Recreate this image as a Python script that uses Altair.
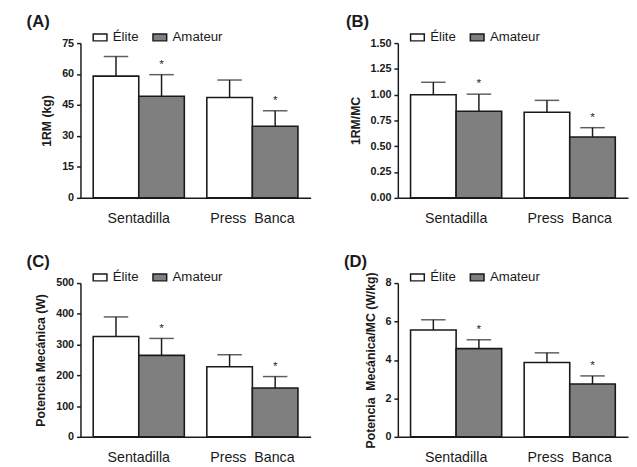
import altair as alt
import pandas as pd

exercises = ["Sentadilla", "Press\u00a0\u00a0Banca"]
groups = ["Élite", "Amateur"]

# values per panel: order = (Sentadilla Élite, Sentadilla Amateur, Press Élite, Press Amateur)
a_mean = [59.0, 49.2, 48.6, 34.7]
a_upper = [68.5, 59.7, 57.1, 42.2]
b_mean = [1.00, 0.84, 0.83, 0.59]
b_upper = [1.12, 1.005, 0.945, 0.68]
c_mean = [326, 265, 228, 159]
c_upper = [390, 320, 267, 196]
d_mean = [5.56, 4.59, 3.87, 2.75]
d_upper = [6.09, 5.05, 4.37, 3.17]
sig = ["", "*", "", "*"]

a_ticks = [0, 15, 30, 45, 60, 75]
b_ticks = [0, 0.25, 0.5, 0.75, 1.0, 1.25, 1.5]
c_ticks = [0, 100, 200, 300, 400, 500]
d_ticks = [0, 2, 4, 6, 8]

INK = "#1a1a1a"


def make_df(means, uppers):
    rows = []
    i = 0
    for ex in exercises:
        for g in groups:
            rows.append({"exercise": ex, "group": g, "value": means[i],
                         "upper": uppers[i], "sig": sig[i]})
            i += 1
    return pd.DataFrame(rows)


def panel(label, means, uppers, ticks, ytitle, fmt, height, tdx):
    df = make_df(means, uppers)
    base = alt.Chart(df).encode(
        x=alt.X("exercise:N", sort=exercises,
                scale=alt.Scale(paddingInner=0.198, paddingOuter=0.112),
                axis=alt.Axis(title=None, labelAngle=0, ticks=False,
                              labelFontSize=14.5, labelPadding=14,
                              labelColor=INK, domainColor=INK,
                              domainWidth=1.5)),
        xOffset=alt.XOffset("group:N", sort=groups,
                            scale=alt.Scale(paddingInner=0, paddingOuter=0)),
    )
    yscale = alt.Scale(domain=[ticks[0], ticks[-1]], nice=False)

    def yaxis():
        return alt.Axis(title=ytitle, values=ticks, format=fmt,
                        labelOverlap=False,
                        grid=False, tickSize=4, tickColor=INK,
                        tickWidth=1.5, domainColor=INK, domainWidth=1.5,
                        labelFontSize=11, labelFontWeight="bold",
                        labelColor=INK, labelPadding=3, titleFontSize=12.5,
                        titleFontWeight="bold", titleColor=INK,
                        titlePadding=8)

    bars = base.mark_bar(stroke=INK, strokeWidth=1.6, opacity=1).encode(
        y=alt.Y("value:Q", scale=yscale, axis=yaxis()),
        color=alt.Color("group:N",
                        scale=alt.Scale(domain=groups, range=["#ffffff", "#7f7f7f"]),
                        legend=alt.Legend(title=None, orient="none", legendX=12,
                                          legendY=-14, direction="horizontal",
                                          symbolType="M-1,-0.5H1V0.5H-1Z",
                                          symbolSize=196, symbolStrokeColor=INK,
                                          symbolStrokeWidth=1.5, symbolOpacity=1,
                                          labelFontSize=13.5, labelColor=INK,
                                          labelOffset=5, columnPadding=11)),
    )
    err = base.mark_rule(color=INK, strokeWidth=1.5).encode(
        y=alt.Y("value:Q", scale=yscale, axis=yaxis(), title=ytitle),
        y2="upper:Q")
    cap = base.mark_tick(color=INK, thickness=1.5, size=25).encode(
        y=alt.Y("upper:Q", scale=yscale, axis=yaxis(), title=ytitle))
    star = base.mark_text(dy=-4, baseline="bottom", fontSize=12,
                          color=INK).encode(
        y=alt.Y("upper:Q", scale=yscale, axis=yaxis(), title=ytitle),
        text="sig:N")
    return alt.layer(bars, err, cap, star).properties(
        width=235, height=height,
        title=alt.Title(label, anchor="start", frame="group", fontSize=17,
                        fontWeight="bold", dx=tdx, color=INK, offset=-2),
    )


pa = panel("(A)", a_mean, a_upper, a_ticks, "1RM (kg)", "d", 158, -55)
pb = panel("(B)", b_mean, b_upper, b_ticks, "1RM/MC", ".2f", 158, -53)
pc = panel("(C)", c_mean, c_upper, c_ticks, "Potencia Mecánica (W)", "d", 157, -55)
pd_ = panel("(D)", d_mean, d_upper, d_ticks,
            "Potencia\u00a0\u00a0Mecánica/MC (W/kg)", "d", 157, -55)

chart = alt.concat(pa, pb, pc, pd_, columns=2,
                   spacing={"row": 28, "column": 32}).resolve_scale(
    color="independent").resolve_legend(color="independent").configure(
    font="Liberation Sans").configure_view(stroke="transparent").properties(
    padding={"left": 18, "top": 0, "right": 0, "bottom": 0})

chart.save("out.html", embed_options={"renderer": "svg", "actions": False})
